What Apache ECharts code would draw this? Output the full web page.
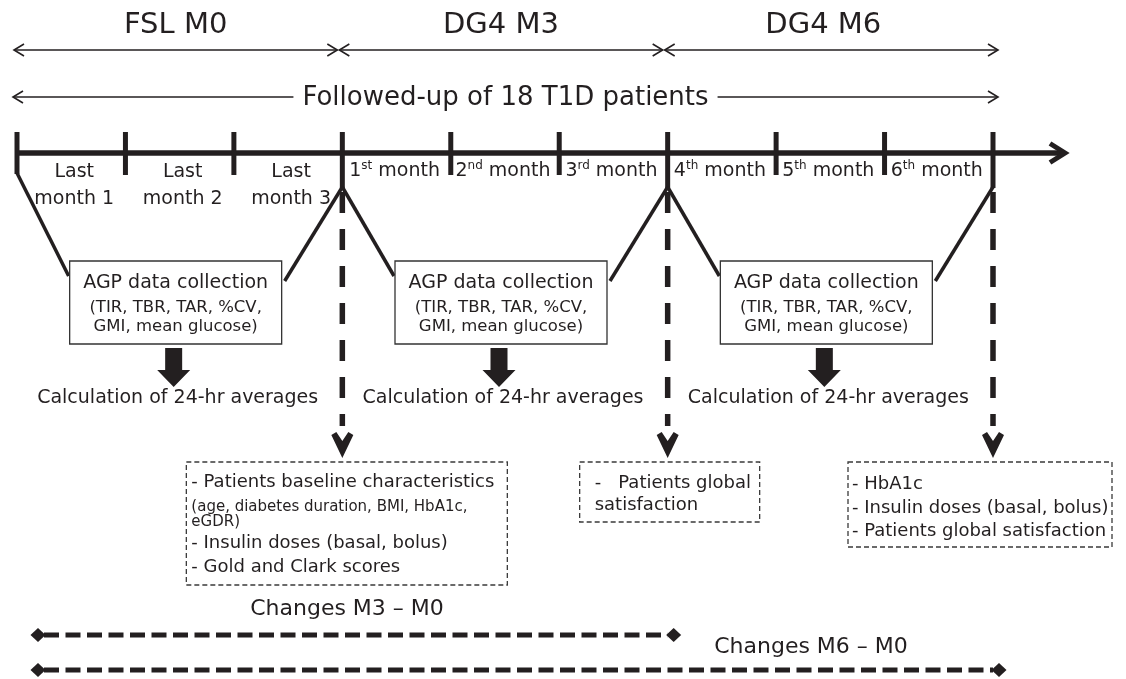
<!DOCTYPE html>
<html><head><meta charset="utf-8">
<script src="https://cdn.jsdelivr.net/npm/echarts@6/dist/echarts.min.js"></script>
<style>html,body{margin:0;padding:0;background:#fff}#c{width:1126px;height:679px}</style>
</head><body><div id="c"></div>
<script>
// ---------------- data ----------------
const monthTicks = [-3, -2, -1, 0, 1, 2, 3, 4, 5, 6];
const monthLabels = ['Last month 1', 'Last month 2', 'Last month 3', '1st month', '2nd month', '3rd month', '4th month', '5th month', '6th month'];
const periodNames = ['FSL M0', 'DG4 M3', 'DG4 M6'];
const periodStart = [-3, 0, 3];
const periodEnd = [0, 3, 6];
const followUpLabel = 'Followed-up of 18 T1D patients';
const agpTitle = 'AGP data collection';
const agpMetrics = ['(TIR, TBR, TAR, %CV,', 'GMI, mean glucose)'];
const calcLabel = 'Calculation of 24-hr averages';
const visitMonths = [0, 3, 6];
const visitM0 = ['- Patients baseline characteristics', '(age, diabetes duration, BMI, HbA1c,', 'eGDR)', '- Insulin doses (basal, bolus)', '- Gold and Clark scores'];
const visitM3 = ['-   Patients global', 'satisfaction'];
const visitM6 = ['- HbA1c', '- Insulin doses (basal, bolus)', '- Patients global satisfaction'];
const changesLabels = ['Changes M3 \u2013 M0', 'Changes M6 \u2013 M0'];
const changesFrom = [-3, -3];
const changesTo = [3, 6];

// ---------------- layout ----------------
const INK = '#231f20';
const FONT = '"DejaVu Sans", Verdana, sans-serif';
const U = 976 / 9, X0 = 17;
const xMin = -3 - X0 / U, xMax = xMin + 1126 / U;
const visitNotes = [visitM0, visitM3, visitM6];
const visitBox = [
  {dx: -156, w: 321, h: 123, pad: 5, ys: [20, 45, 60, 81, 105], small: [1, 2]},
  {dx: -88, w: 180, h: 60, pad: 15, ys: [21, 43], small: []},
  {dx: -145, w: 264, h: 85, pad: 4, ys: [22, 46, 69], small: []}
];
const changesY = [635, 670];
const changesLabelPos = [[347, 609], [811, 647]];

function line(pts, w, extra) {
  return {type: 'polyline', shape: {points: pts}, style: Object.assign({stroke: INK, lineWidth: w, fill: null}, extra || {})};
}
function poly(pts) { return {type: 'polygon', shape: {points: pts}, style: {fill: INK}}; }
function txt(x, y, s, size, extra) {
  return {type: 'text', x: x, y: y, style: Object.assign({text: s, fill: INK, fontSize: size, fontFamily: FONT, align: 'center', verticalAlign: 'middle'}, extra || {})};
}
function X(api, m) { return api.coord([m, 0])[0]; }
function Y(api, y) { return api.coord([xMin, y])[1]; }

function monthRich(s) {
  const m = s.match(/^(\d+)(st|nd|rd|th)\s(.+)$/);
  if (m) return '{n|' + m[1] + '}{s|' + m[2] + '}{n| ' + m[3] + '}';
  const k = s.indexOf(' ');
  return '{n|' + s.slice(0, k) + '}\n{n|' + s.slice(k + 1) + '}';
}

const series = [];

// main timeline
series.push({
  type: 'custom', clip: false, silent: true,
  data: [[monthTicks[0], 153, monthTicks[monthTicks.length - 1]]],
  renderItem: function (p, api) {
    const a = X(api, api.value(0)), b = X(api, api.value(2)), y = Y(api, api.value(1));
    const tip = b + 74;
    return {type: 'group', children: [
      line([[a - 2, y], [tip - 6, y]], 5.5),
      line([[tip - 17, y - 9.5], [tip - 2, y], [tip - 17, y + 9.5]], 5, {lineJoin: 'miter', lineCap: 'butt'})
    ]};
  }
});

// month ticks
series.push({
  type: 'custom', clip: false, silent: true,
  data: monthTicks.map(function (m) { return [m, 132]; }),
  renderItem: function (p, api) {
    const m = api.value(0), x = X(api, m), top = Y(api, api.value(1));
    const bottom = m === monthTicks[0] ? 174 : (visitMonths.indexOf(m) >= 0 ? 188 : 175);
    return {type: 'rect', shape: {x: x - 2.5, y: top, width: 5, height: Y(api, bottom) - top}, style: {fill: INK}};
  }
});

// month labels
series.push({
  type: 'custom', clip: false, silent: true,
  data: monthLabels.map(function (s, i) { return [(monthTicks[i] + monthTicks[i + 1]) / 2, 171, i]; }),
  renderItem: function (p, api) {
    const i = api.value(2), s = monthLabels[i];
    const two = !/^\d/.test(s);
    const x = X(api, api.value(0)) + (two ? 3 : -2), y = Y(api, two ? 186 : api.value(1));
    return {type: 'text', x: x, y: y, style: {
      text: monthRich(s), fill: INK, align: 'center', verticalAlign: 'middle',
      rich: {
        n: {fontSize: 19, fontFamily: FONT, fill: INK, lineHeight: two ? 27 : 22},
        s: {fontSize: 12, fontFamily: FONT, fill: INK, verticalAlign: 'top', lineHeight: 13}
      }
    }};
  }
});

// follow-up arrow
series.push({
  type: 'custom', clip: false, silent: true,
  data: [[periodStart[0], 97, periodEnd[periodEnd.length - 1]]],
  renderItem: function (p, api) {
    const a = X(api, api.value(0)) - 4, b = X(api, api.value(2)) + 5, y = Y(api, api.value(1));
    return {type: 'group', children: [
      line([[a, y], [b, y]], 1.6),
      line([[a + 10, y - 6], [a, y], [a + 10, y + 6]], 1.6),
      line([[b - 10, y - 6], [b, y], [b - 10, y + 6]], 1.6),
      txt((a + b) / 2, y + 1, followUpLabel, 26, {backgroundColor: '#fff', padding: [2, 9]})
    ]};
  }
});

// periods: top arrows, AGP boxes, diagonals, block arrows, calc labels
series.push({
  type: 'custom', clip: false, silent: true,
  data: periodNames.map(function (n, i) { return [periodStart[i], 50, periodEnd[i], i]; }),
  renderItem: function (p, api) {
    const i = api.value(3), last = i === periodNames.length - 1;
    const fromM = api.value(0), toM = api.value(2);
    const a = X(api, fromM), b = X(api, toM), y = Y(api, api.value(1));
    const s = a - 3, e = b + (last ? 5 : -5);
    const cx = (a + b) / 2 - 4;
    const L = cx - 106, R = cx + 106, T = 261, B = 344;
    const fromBottom = fromM === monthTicks[0] ? 173 : 187;
    const c = cx - 2;
    return {type: 'group', children: [
      line([[s, y], [e, y]], 1.6),
      line([[s + 10, y - 6], [s, y], [s + 10, y + 6]], 1.6),
      line([[e - 10, y - 6], [e, y], [e - 10, y + 6]], 1.6),
      txt((s + e) / 2 + (last ? -8 : 0), 25, periodNames[i], 29),
      line([[a, fromBottom], [L - 1, 276]], 3.5),
      line([[R + 3, 281], [b, 187]], 3.5),
      {type: 'rect', shape: {x: L, y: T, width: R - L, height: B - T}, style: {fill: '#fff', stroke: '#333', lineWidth: 1.3}},
      txt(cx, 283, agpTitle, 19),
      txt(cx, 308, agpMetrics[0], 16.5),
      txt(cx, 327, agpMetrics[1], 16.5),
      poly([[c - 8.5, 348], [c + 8.5, 348], [c + 8.5, 370], [c + 16.5, 370], [c, 387], [c - 16.5, 370], [c - 8.5, 370]]),
      txt(cx + 2, 398, calcLabel, 19)
    ]};
  }
});

// visits: dashed arrows and dashed note boxes
series.push({
  type: 'custom', clip: false, silent: true,
  data: visitMonths.map(function (m, i) { return [m, 462, i]; }),
  renderItem: function (p, api) {
    const i = api.value(2), x = X(api, api.value(0)), top = Y(api, api.value(1));
    const lay = visitBox[i], notes = visitNotes[i];
    const L = x + lay.dx;
    const ch = [
      line([[x, 192], [x, 426]], 5.5, {lineDash: [21, 16]}),
      poly([[x - 11, 435], [x - 6, 432], [x, 441], [x + 6, 432], [x + 11, 435], [x, 458]]),
      {type: 'rect', shape: {x: L, y: top, width: lay.w, height: lay.h}, style: {fill: null, stroke: '#3a3a3a', lineWidth: 1.3, lineDash: [5, 3]}}
    ];
    notes.forEach(function (s, k) {
      const small = lay.small.indexOf(k) >= 0;
      ch.push(txt(L + lay.pad, top + lay.ys[k], s, small ? 15 : 18, {align: 'left'}));
    });
    return {type: 'group', children: ch};
  }
});

// changes lines
series.push({
  type: 'custom', clip: false, silent: true,
  data: changesLabels.map(function (s, i) { return [changesFrom[i], changesY[i], changesTo[i], i]; }),
  renderItem: function (p, api) {
    const i = api.value(3), y = Y(api, api.value(1));
    const a = X(api, api.value(0)) + 21, b = X(api, api.value(2)) + 6;
    function dia(cx) { return poly([[cx - 7.5, y], [cx, y - 7], [cx + 7.5, y], [cx, y + 7]]); }
    return {type: 'group', children: [
      line([[a + 6, y], [b - 6, y]], 5, {lineDash: [15, 6.5]}),
      dia(a), dia(b),
      txt(changesLabelPos[i][0], changesLabelPos[i][1], changesLabels[i], 22)
    ]};
  }
});

const chart = echarts.init(document.getElementById('c'));
chart.setOption({
  backgroundColor: '#fff',
  animation: false,
  grid: {left: 0, right: 0, top: 0, bottom: 0},
  xAxis: {type: 'value', min: xMin, max: xMax, show: false},
  yAxis: {type: 'value', min: 0, max: 679, inverse: true, show: false},
  series: series
});
</script>
</body></html>
